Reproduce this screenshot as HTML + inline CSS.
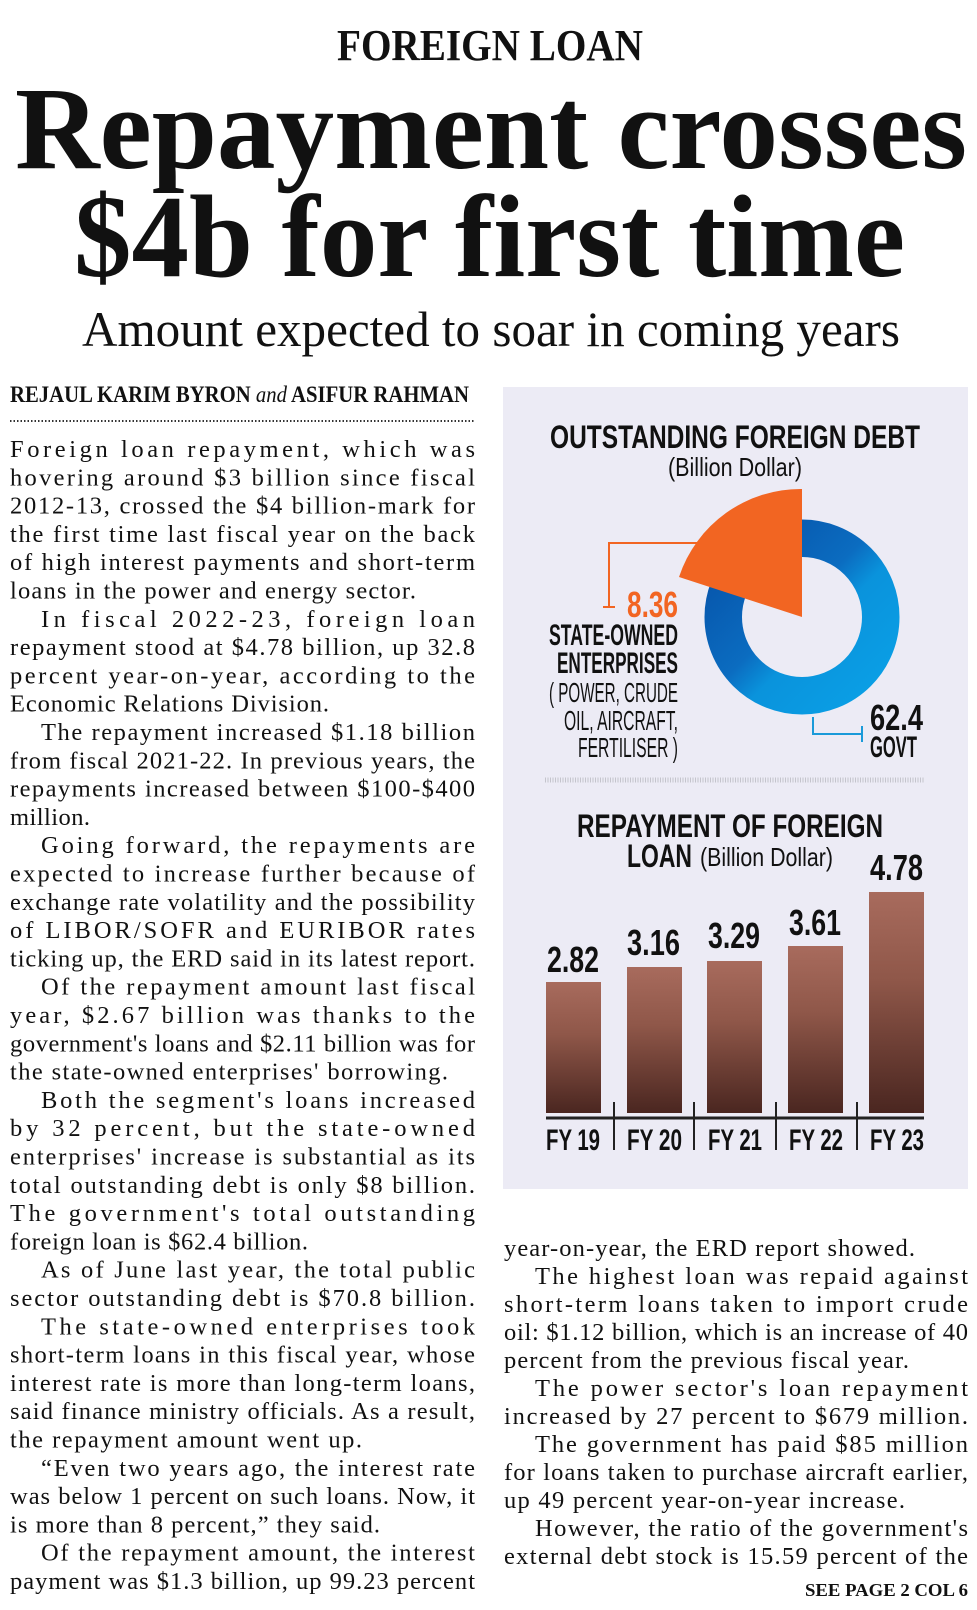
<!DOCTYPE html>
<html><head><meta charset="utf-8"><style>
html,body{margin:0;padding:0;background:#fff;}
svg{display:block}
.b{font-family:"Liberation Serif",serif;font-size:24.5px;fill:#111}
.c{font-family:"Liberation Sans Narrow","Liberation Sans",sans-serif;font-weight:bold;fill:#111}
.cn{font-family:"Liberation Sans Narrow","Liberation Sans",sans-serif;fill:#111}
</style></head><body>
<svg width="977" height="1610" viewBox="0 0 977 1610" xmlns="http://www.w3.org/2000/svg">
<defs>
<linearGradient id="ring" x1="0" y1="0" x2="1" y2="1">
<stop offset="0" stop-color="#0652a8"/><stop offset="0.45" stop-color="#0b6cc0"/><stop offset="0.6" stop-color="#0a93dc"/><stop offset="1" stop-color="#0aa0e6"/>
</linearGradient>
<linearGradient id="bar" x1="0" y1="0" x2="0" y2="1">
<stop offset="0" stop-color="#a86b5d"/><stop offset="0.4" stop-color="#8f5749"/><stop offset="1" stop-color="#4a2620"/>
</linearGradient>
</defs>
<rect width="977" height="1610" fill="#fff"/>
<!-- headline -->
<text x="337" y="60" font-family="Liberation Serif,serif" font-weight="bold" font-size="44" textLength="306" lengthAdjust="spacingAndGlyphs" fill="#111">FOREIGN LOAN</text>
<text x="15" y="168" font-family="Liberation Serif,serif" font-weight="bold" font-size="118" textLength="952" lengthAdjust="spacingAndGlyphs" fill="#111">Repayment crosses</text>
<text x="74" y="276" font-family="Liberation Serif,serif" font-weight="bold" font-size="118" textLength="831" lengthAdjust="spacingAndGlyphs" fill="#111">$4b for first time</text>
<text x="82" y="346" font-family="Liberation Serif,serif" font-size="50" textLength="818" lengthAdjust="spacingAndGlyphs" fill="#111">Amount expected to soar in coming years</text>
<text x="10" y="402" font-family="Liberation Serif,serif" font-weight="bold" font-size="23" textLength="459" lengthAdjust="spacingAndGlyphs" fill="#111">REJAUL KARIM BYRON <tspan font-style="italic" font-weight="normal">and</tspan> ASIFUR RAHMAN</text>
<line x1="10" y1="421" x2="475" y2="421" stroke="#333" stroke-width="2" stroke-dasharray="1.5 2"/>

<!-- left column -->
<g class="b">
<text x="10" y="457" textLength="465" lengthAdjust="spacing">Foreign loan repayment, which was</text>
<text x="10" y="485.3" textLength="465" lengthAdjust="spacing">hovering around $3 billion since fiscal</text>
<text x="10" y="513.6" textLength="465" lengthAdjust="spacing">2012-13, crossed the $4 billion-mark for</text>
<text x="10" y="541.9" textLength="465" lengthAdjust="spacing">the first time last fiscal year on the back</text>
<text x="10" y="570.2" textLength="465" lengthAdjust="spacing">of high interest payments and short-term</text>
<text x="10" y="598.5" textLength="406" lengthAdjust="spacing">loans in the power and energy sector.</text>
<text x="41" y="626.8" textLength="434" lengthAdjust="spacing">In fiscal 2022-23, foreign loan</text>
<text x="10" y="655.1" textLength="465" lengthAdjust="spacing">repayment stood at $4.78 billion, up 32.8</text>
<text x="10" y="683.4" textLength="465" lengthAdjust="spacing">percent year-on-year, according to the</text>
<text x="10" y="711.7" textLength="319" lengthAdjust="spacing">Economic Relations Division.</text>
<text x="41" y="740" textLength="434" lengthAdjust="spacing">The repayment increased $1.18 billion</text>
<text x="10" y="768.3" textLength="465" lengthAdjust="spacing">from fiscal 2021-22. In previous years, the</text>
<text x="10" y="796.6" textLength="465" lengthAdjust="spacing">repayments increased between $100-$400</text>
<text x="10" y="824.9" textLength="80" lengthAdjust="spacing">million.</text>
<text x="41" y="853.2" textLength="434" lengthAdjust="spacing">Going forward, the repayments are</text>
<text x="10" y="881.5" textLength="465" lengthAdjust="spacing">expected to increase further because of</text>
<text x="10" y="909.8" textLength="465" lengthAdjust="spacing">exchange rate volatility and the possibility</text>
<text x="10" y="938.1" textLength="465" lengthAdjust="spacing">of LIBOR/SOFR and EURIBOR rates</text>
<text x="10" y="966.4" textLength="465" lengthAdjust="spacing">ticking up, the ERD said in its latest report.</text>
<text x="41" y="994.7" textLength="434" lengthAdjust="spacing">Of the repayment amount last fiscal</text>
<text x="10" y="1023" textLength="465" lengthAdjust="spacing">year, $2.67 billion was thanks to the</text>
<text x="10" y="1051.3" textLength="465" lengthAdjust="spacing">government's loans and $2.11 billion was for</text>
<text x="10" y="1079.6" textLength="438" lengthAdjust="spacing">the state-owned enterprises' borrowing.</text>
<text x="41" y="1107.9" textLength="434" lengthAdjust="spacing">Both the segment's loans increased</text>
<text x="10" y="1136.2" textLength="465" lengthAdjust="spacing">by 32 percent, but the state-owned</text>
<text x="10" y="1164.5" textLength="465" lengthAdjust="spacing">enterprises' increase is substantial as its</text>
<text x="10" y="1192.8" textLength="465" lengthAdjust="spacing">total outstanding debt is only $8 billion.</text>
<text x="10" y="1221.1" textLength="465" lengthAdjust="spacing">The government's total outstanding</text>
<text x="10" y="1249.4" textLength="298" lengthAdjust="spacing">foreign loan is $62.4 billion.</text>
<text x="41" y="1277.7" textLength="434" lengthAdjust="spacing">As of June last year, the total public</text>
<text x="10" y="1306" textLength="465" lengthAdjust="spacing">sector outstanding debt is $70.8 billion.</text>
<text x="41" y="1334.3" textLength="434" lengthAdjust="spacing">The state-owned enterprises took</text>
<text x="10" y="1362.6" textLength="465" lengthAdjust="spacing">short-term loans in this fiscal year, whose</text>
<text x="10" y="1390.9" textLength="465" lengthAdjust="spacing">interest rate is more than long-term loans,</text>
<text x="10" y="1419.2" textLength="465" lengthAdjust="spacing">said finance ministry officials. As a result,</text>
<text x="10" y="1447.5" textLength="352" lengthAdjust="spacing">the repayment amount went up.</text>
<text x="41" y="1475.8" textLength="434" lengthAdjust="spacing">“Even two years ago, the interest rate</text>
<text x="10" y="1504.1" textLength="465" lengthAdjust="spacing">was below 1 percent on such loans. Now, it</text>
<text x="10" y="1532.4" textLength="370" lengthAdjust="spacing">is more than 8 percent,” they said.</text>
<text x="41" y="1560.7" textLength="434" lengthAdjust="spacing">Of the repayment amount, the interest</text>
<text x="10" y="1589" textLength="465" lengthAdjust="spacing">payment was $1.3 billion, up 99.23 percent</text>
</g>

<!-- right column -->
<g class="b">
<text x="504" y="1256" textLength="411" lengthAdjust="spacing">year-on-year, the ERD report showed.</text>
<text x="535" y="1284" textLength="433" lengthAdjust="spacing">The highest loan was repaid against</text>
<text x="504" y="1312" textLength="464" lengthAdjust="spacing">short-term loans taken to import crude</text>
<text x="504" y="1340" textLength="464" lengthAdjust="spacing">oil: $1.12 billion, which is an increase of 40</text>
<text x="504" y="1368" textLength="405" lengthAdjust="spacing">percent from the previous fiscal year.</text>
<text x="535" y="1396" textLength="433" lengthAdjust="spacing">The power sector's loan repayment</text>
<text x="504" y="1424" textLength="464" lengthAdjust="spacing">increased by 27 percent to $679 million.</text>
<text x="535" y="1452" textLength="433" lengthAdjust="spacing">The government has paid $85 million</text>
<text x="504" y="1480" textLength="464" lengthAdjust="spacing">for loans taken to purchase aircraft earlier,</text>
<text x="504" y="1508" textLength="401" lengthAdjust="spacing">up 49 percent year-on-year increase.</text>
<text x="535" y="1536" textLength="433" lengthAdjust="spacing">However, the ratio of the government's</text>
<text x="504" y="1564" textLength="464" lengthAdjust="spacing">external debt stock is 15.59 percent of the</text>
</g>
<text x="805" y="1596" font-family="Liberation Serif,serif" font-weight="bold" font-size="18" textLength="163" lengthAdjust="spacingAndGlyphs" fill="#111">SEE PAGE 2 COL 6</text>

<!-- chart panel -->
<rect x="503" y="387" width="465" height="802" fill="#ecebf5"/>
<text class="c" x="550" y="448" font-size="32" textLength="370" lengthAdjust="spacingAndGlyphs">OUTSTANDING FOREIGN DEBT</text>
<text class="cn" x="668" y="476" font-size="26" textLength="134" lengthAdjust="spacingAndGlyphs">(Billion Dollar)</text>
<circle cx="802" cy="617" r="78.75" fill="none" stroke="url(#ring)" stroke-width="37.5"/>
<path d="M802,617 L802,489 A128,128 0 0 0 679,577 Z" fill="#f26522"/>
<polyline points="698,543 609,543 609,607" fill="none" stroke="#f26522" stroke-width="2"/>
<line x1="603" y1="607" x2="615" y2="607" stroke="#f26522" stroke-width="2"/>
<text class="c" x="627" y="617" font-size="36" textLength="51" lengthAdjust="spacingAndGlyphs" fill="#f26522" style="fill:#f26522">8.36</text>
<text class="c" x="549" y="645" font-size="30" textLength="129" lengthAdjust="spacingAndGlyphs">STATE-OWNED</text>
<text class="c" x="557" y="673" font-size="30" textLength="121" lengthAdjust="spacingAndGlyphs">ENTERPRISES</text>
<text class="cn" x="549" y="702" font-size="28" textLength="129" lengthAdjust="spacingAndGlyphs">( POWER, CRUDE</text>
<text class="cn" x="564" y="730" font-size="28" textLength="114" lengthAdjust="spacingAndGlyphs">OIL, AIRCRAFT,</text>
<text class="cn" x="578" y="757" font-size="28" textLength="100" lengthAdjust="spacingAndGlyphs">FERTILISER )</text>
<polyline points="813,717 813,734 862,734" fill="none" stroke="#1a9ad9" stroke-width="2"/>
<line x1="862" y1="726" x2="862" y2="742" stroke="#1a9ad9" stroke-width="2"/>
<text class="c" x="870" y="730" font-size="36" textLength="53" lengthAdjust="spacingAndGlyphs">62.4</text>
<text class="c" x="870" y="757" font-size="30" textLength="47" lengthAdjust="spacingAndGlyphs">GOVT</text>
<line x1="545" y1="780" x2="925" y2="780" stroke="#c4c4cc" stroke-width="5" stroke-dasharray="1 1.5"/>
<text class="c" x="577" y="837" font-size="32" textLength="306" lengthAdjust="spacingAndGlyphs">REPAYMENT OF FOREIGN</text>
<text class="c" x="627" y="867" font-size="32" textLength="65" lengthAdjust="spacingAndGlyphs">LOAN</text>
<text class="cn" x="700" y="866" font-size="26" textLength="133" lengthAdjust="spacingAndGlyphs">(Billion Dollar)</text>
<rect x="546" y="982" width="55" height="131" fill="url(#bar)"/>
<rect x="627" y="967" width="55" height="146" fill="url(#bar)"/>
<rect x="707" y="961" width="55" height="152" fill="url(#bar)"/>
<rect x="788" y="946" width="55" height="167" fill="url(#bar)"/>
<rect x="869" y="892" width="55" height="221" fill="url(#bar)"/>
<text class="c" x="547" y="972" font-size="36" textLength="52" lengthAdjust="spacingAndGlyphs">2.82</text>
<text class="c" x="627" y="955" font-size="36" textLength="53" lengthAdjust="spacingAndGlyphs">3.16</text>
<text class="c" x="708" y="948" font-size="36" textLength="52" lengthAdjust="spacingAndGlyphs">3.29</text>
<text class="c" x="789" y="935" font-size="36" textLength="52" lengthAdjust="spacingAndGlyphs">3.61</text>
<text class="c" x="870" y="880" font-size="36" textLength="53" lengthAdjust="spacingAndGlyphs">4.78</text>
<line x1="546" y1="1118" x2="924" y2="1118" stroke="#222" stroke-width="3"/>
<g stroke="#222" stroke-width="2">
<line x1="614" y1="1102" x2="614" y2="1150"/><line x1="694" y1="1102" x2="694" y2="1150"/>
<line x1="776" y1="1102" x2="776" y2="1150"/><line x1="857" y1="1102" x2="857" y2="1150"/>
</g>
<text class="c" x="546" y="1150" font-size="30" textLength="54" lengthAdjust="spacingAndGlyphs">FY 19</text>
<text class="c" x="627" y="1150" font-size="30" textLength="55" lengthAdjust="spacingAndGlyphs">FY 20</text>
<text class="c" x="708" y="1150" font-size="30" textLength="54" lengthAdjust="spacingAndGlyphs">FY 21</text>
<text class="c" x="789" y="1150" font-size="30" textLength="54" lengthAdjust="spacingAndGlyphs">FY 22</text>
<text class="c" x="870" y="1150" font-size="30" textLength="54" lengthAdjust="spacingAndGlyphs">FY 23</text>
</svg>
</body></html>
